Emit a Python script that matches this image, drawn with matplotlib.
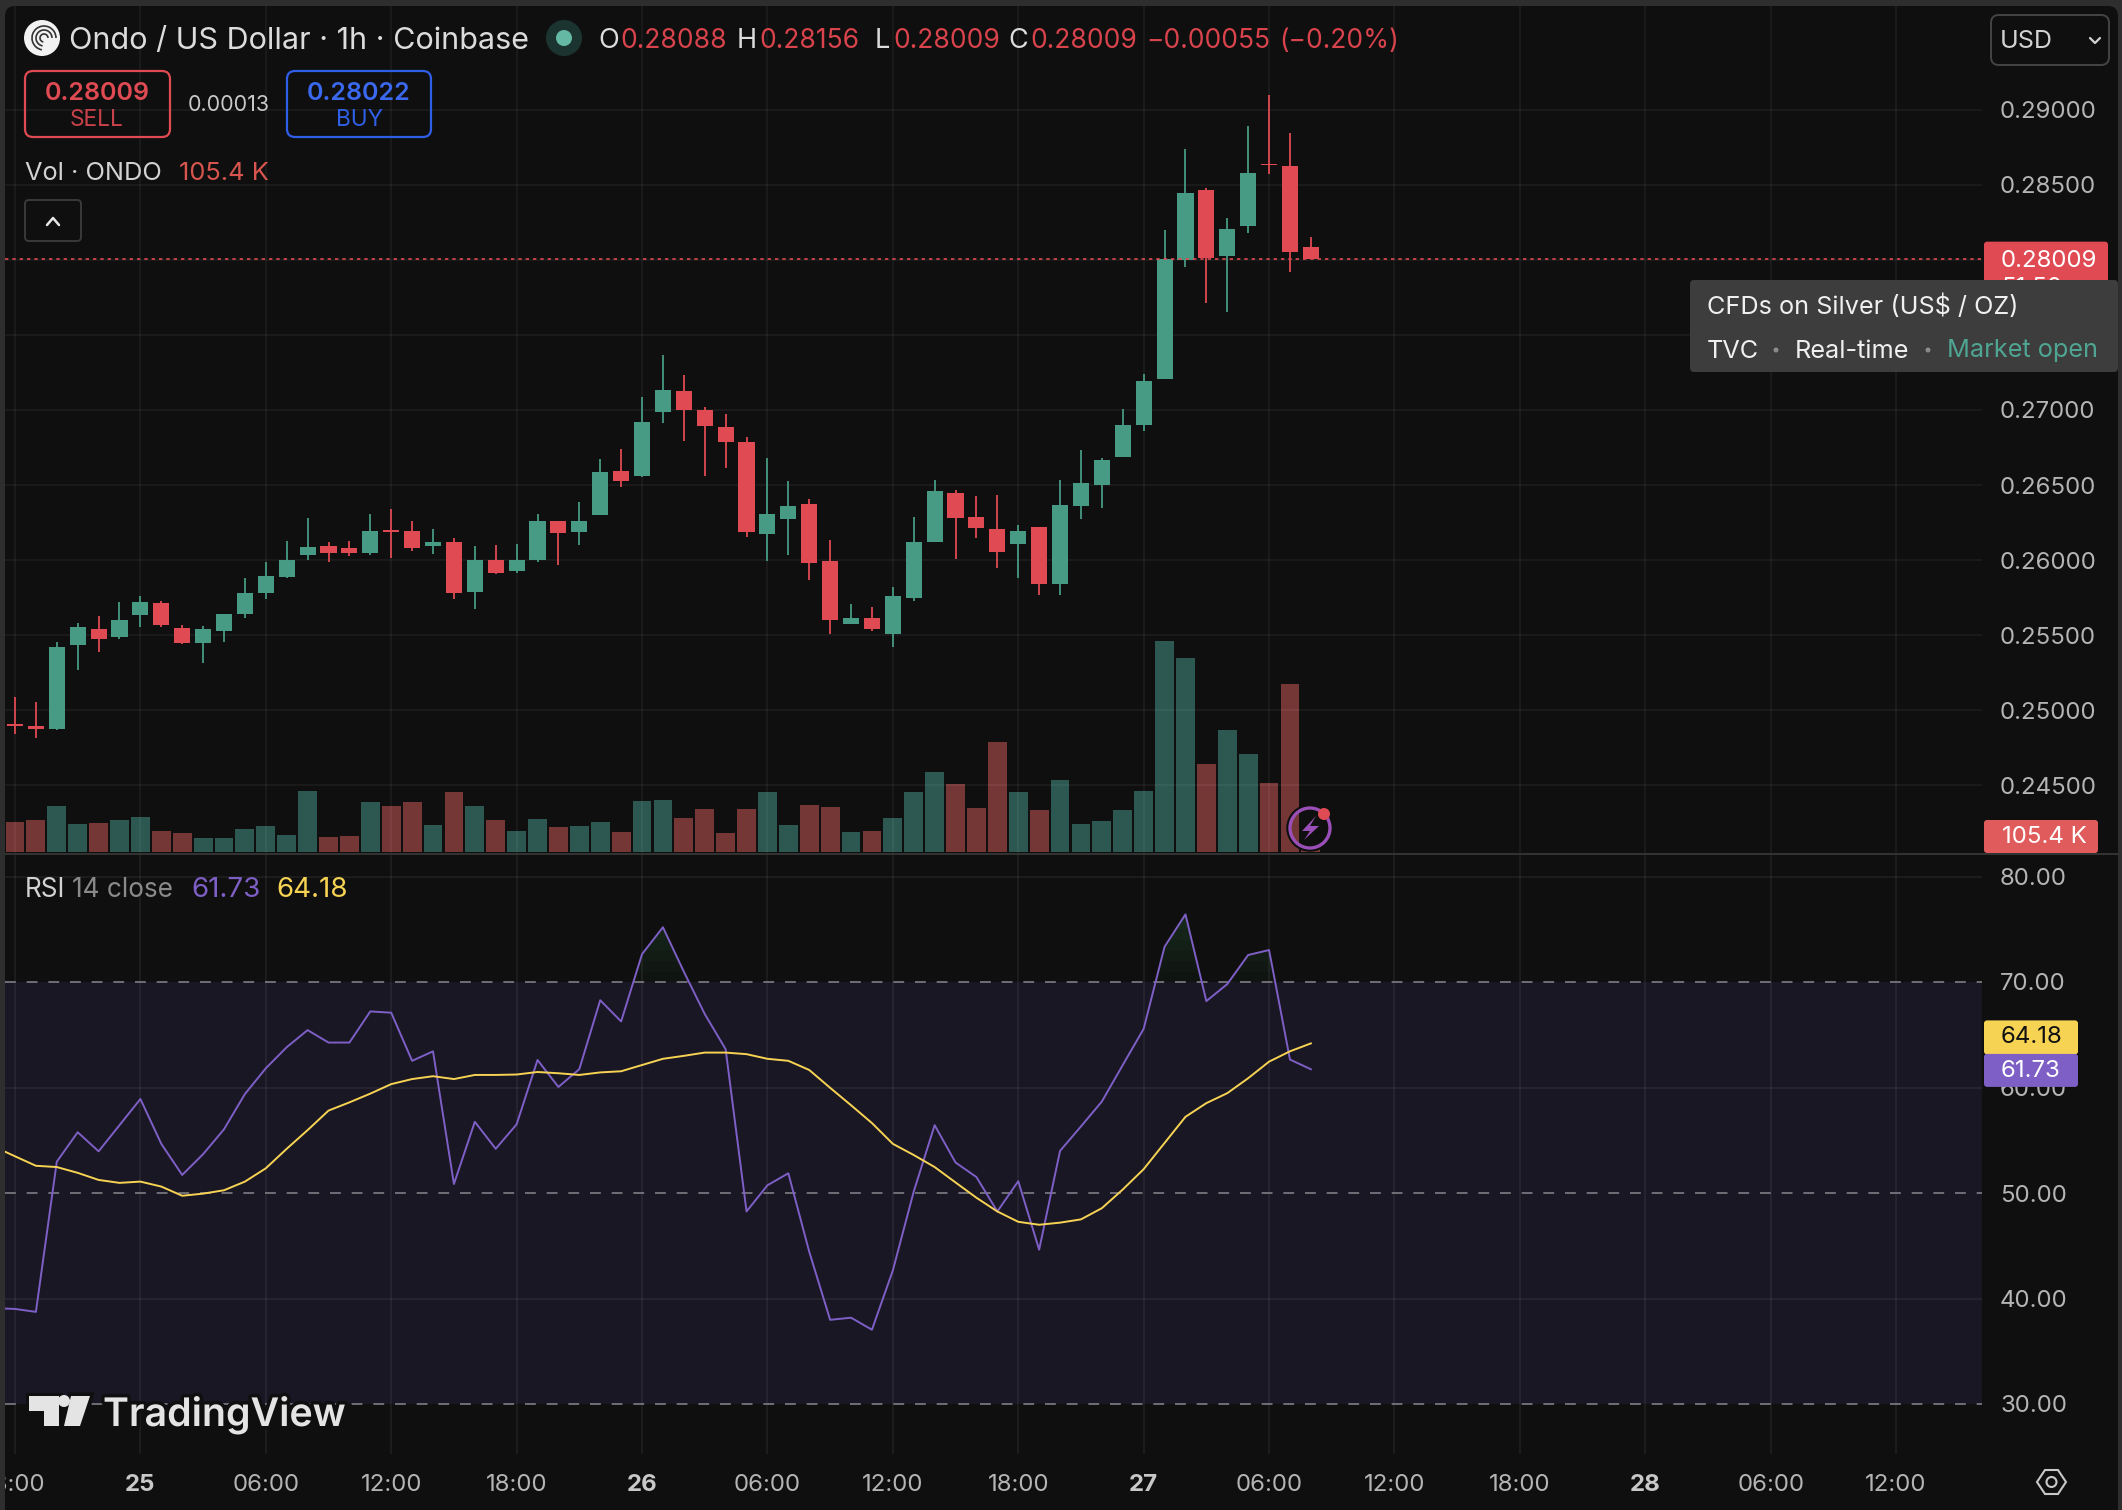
import numpy as np
import matplotlib
matplotlib.use("Agg")
import matplotlib.pyplot as plt
import matplotlib.patheffects as pe
from matplotlib.patches import FancyBboxPatch, Circle, Polygon, Arc

plt.rcParams['font.family'] = ['Inter', 'DejaVu Sans']

# hourly candles, hour 0 = 24th 18:00
opens = [.24907, .24893, .24873, .25433, .2554, .25487, .25633, .25713, .25547, .25447,
         .25527, .2564, .2578, .25887, .26033, .26093, .2608, .26047, .262, .26193,
         .26093, .2612, .25787, .26, .25927, .26, .2626, .26187, .263, .26593,
         .2656, .26987, .27127, .27, .26887, .26787, .26173, .26273, .26373, .25993,
         .25573, .25613, .25507, .25747, .2612, .26447, .26287, .26207, .26107, .2622,
         .2584, .2636, .265, .26687, .269, .27207, .28, .28467, .28027, .28227,
         .28643, .28627, .28088]
highs = [.25087, .25053, .25453, .2558, .25627, .2572, .2576, .25727, .25567, .2556,
         .2564, .2588, .25987, .26127, .2628, .2612, .26127, .26307, .2634, .2626,
         .26207, .26147, .26093, .261, .26107, .26307, .2626, .26387, .26673, .2674,
         .27087, .27367, .27233, .2702, .26973, .2682, .2668, .26527, .26407, .26133,
         .25707, .25687, .2582, .26287, .26533, .26467, .26427, .26433, .26233, .2622,
         .26533, .26733, .2668, .27007, .2724, .282, .2874, .2848, .2828, .28893,
         .291, .28847, .28156]
lows = [.2484, .24813, .24867, .25267, .25387, .25473, .25553, .25553, .2544, .25313,
        .25453, .25613, .2574, .2588, .26, .25987, .26027, .26033, .26013, .2606,
        .2604, .2574, .25673, .25907, .25913, .25987, .25967, .261, .263, .26487,
        .26553, .26913, .26793, .2656, .26613, .26153, .25993, .26033, .25867, .25507,
        .25573, .25527, .2542, .25727, .2612, .26007, .26147, .25947, .2588, .25767,
        .25767, .26273, .26347, .26687, .2686, .27207, .27953, .27713, .27653, .2818,
        .28573, .2792, .28009]
closes = [.24893, .24873, .2542, .25553, .25473, .256, .2572, .25567, .25447, .2554,
          .2564, .2578, .25893, .26, .26087, .26047, .26047, .26193, .26187, .2608,
          .2612, .2578, .26, .25913, .26, .2626, .2618, .2626, .26587, .26527,
          .2692, .27133, .27, .26893, .26787, .26187, .26307, .2636, .2598, .256,
          .25613, .2554, .2576, .2612, .2646, .2628, .26213, .26053, .26193, .2584,
          .26367, .26513, .26667, .269, .27193, .28007, .28447, .28013, .28207, .2858,
          .28633, .28053, .28009]
# volume in thousands
volumes = [1050, 1120, 1610, 980, 1015, 1120, 1225, 735, 665, 490,
           490, 805, 910, 595, 2135, 525, 560, 1750, 1610, 1750,
           945, 2100, 1610, 1120, 735, 1155, 875, 910, 1050, 700,
           1785, 1820, 1190, 1505, 665, 1505, 2100, 945, 1645, 1575,
           700, 735, 1190, 2100, 2800, 2380, 1540, 3850, 2100, 1470,
           2520, 980, 1085, 1470, 2135, 7385, 6790, 3080, 4270, 3430,
           2415, 5880, 105.4]
# RSI and its average start one bar earlier, at hour -1
rsi = [39.09, 39.01, 38.73, 52.97, 55.76, 53.95, 56.43, 58.91, 54.66, 51.71,
       53.68, 56.04, 59.38, 61.82, 63.82, 65.44, 64.26, 64.26, 67.21, 67.09,
       62.53, 63.43, 50.85, 56.75, 54.19, 56.51, 62.61, 60.05, 61.74, 68.27,
       66.26, 72.64, 75.19, 70.98, 66.97, 63.63, 48.25, 50.73, 51.87, 44.43,
       37.98, 38.18, 37.04, 42.66, 50.14, 56.43, 52.89, 51.51, 48.25, 51.12,
       44.63, 53.99, 56.31, 58.67, 62.13, 65.56, 73.34, 76.41, 68.19, 69.8,
       72.56, 73.03, 62.65, 61.73]
rsi_ma = [54.39, 53.48, 52.58, 52.46, 51.91, 51.24, 50.96, 51.08, 50.61, 49.74,
          49.94, 50.26, 51.08, 52.34, 54.19, 55.96, 57.81, 58.59, 59.42, 60.32,
          60.8, 61.07, 60.8, 61.19, 61.19, 61.23, 61.47, 61.35, 61.19, 61.43,
          61.54, 62.13, 62.72, 63.0, 63.31, 63.31, 63.16, 62.72, 62.53, 61.66,
          59.97, 58.32, 56.63, 54.66, 53.6, 52.46, 51.0, 49.55, 48.25, 47.27,
          46.99, 47.19, 47.5, 48.56, 50.33, 52.26, 54.74, 57.22, 58.52, 59.46,
          60.88, 62.45, 63.43, 64.18]
price_ticks = [0.29, 0.285, 0.28, 0.275, 0.27, 0.265, 0.26, 0.255, 0.25, 0.245]
rsi_ticks = [80, 70, 60, 50, 40, 30]
time_hours = [0, 6, 12, 18, 24, 30, 36, 42, 48, 54, 60, 66, 72, 78, 84, 90]
time_labels = ['18:00', '25', '06:00', '12:00', '18:00', '26', '06:00', '12:00',
               '18:00', '27', '06:00', '12:00', '18:00', '28', '06:00', '12:00']
last_price = 0.28009

W, H = 2122, 1510
BG = '#0f0f0f'
GREEN = '#479a83'
RED = '#e04a52'
VOL_GREEN = '#2d5852'
VOL_RED = '#753736'
GRID = '#ffffff'
LABEL = '#b4b4b4'
XLIM = (-0.478, 94.11)


def add_ax(left, top, right, bottom, **kw):
    return fig.add_axes([left / W, 1 - bottom / H, (right - left) / W, (bottom - top) / H], **kw)


def box(ax, x0, y0, x1, y1, r=4, **kw):
    p = FancyBboxPatch((x0 + r, y0 + r), x1 - x0 - 2 * r, y1 - y0 - 2 * r,
                       boxstyle=f'round,pad={r},rounding_size={r}', **kw)
    ax.add_patch(p)


def to_px(ax, v):
    return H - ax.transData.transform((0, v))[1]


def label(x, y, s, size, color, **kw):
    kw.setdefault('va', 'center')
    return ov.text(x, y + 2, s, fontsize=size, color=color, **kw)


fig = plt.figure(figsize=(W / 100, H / 100), dpi=100, facecolor='#2e2e2e')

# rounded dark panel
back = fig.add_axes([0, 0, 1, 1], zorder=0)
back.set_xlim(0, W)
back.set_ylim(H, 0)
back.axis('off')
box(back, 5, 6, 2118, 1540, r=10, fc=BG, ec='none')

# volume underneath
ax_vol = add_ax(5, 6, 1982, 853, zorder=1, facecolor='none')
ax_vol.set_xlim(*XLIM)
ax_vol.set_ylim(-35, 29610)
ax_vol.set_yticks([])
ax_vol.set_xticks([])
for s in ax_vol.spines.values():
    s.set_visible(False)
ax_vol.vlines(time_hours, -35, 29610, color=GRID, alpha=0.06, lw=1.1, zorder=3)

# price pane
ax = add_ax(5, 6, 1982, 853, zorder=2, facecolor='none')
ax.set_xlim(*XLIM)
ax.set_ylim(0.240467, 0.296933)
for s in ax.spines.values():
    s.set_visible(False)
ax.yaxis.tick_right()
ax.set_yticks(price_ticks)
ax.set_yticklabels([f'{p:.5f}' for p in price_ticks], fontsize=17.3, color=LABEL)
ax.tick_params(axis='y', length=0, pad=13)
ax.set_xticks([])
ax.hlines(price_ticks, *XLIM, color=GRID, alpha=0.06, lw=1.1, zorder=0)

hours = np.arange(len(closes))
o = np.array(opens)
c = np.array(closes)
up = c >= o
colors = [GREEN if u else RED for u in up]
vol_colors = [VOL_GREEN if u else VOL_RED for u in up]
ax_vol.bar(hours, volumes, width=0.9, color=vol_colors, lw=0, zorder=2)
ax.vlines(hours, lows, highs, color=colors, lw=1.3, zorder=3)
ax.bar(hours, np.abs(c - o), bottom=np.minimum(o, c), width=0.77, color=colors, lw=0, zorder=4)
ax.axhline(last_price, color=RED, lw=1.2, linestyle=(0, (2, 2.4)), zorder=5)

# RSI pane
ax_rsi = add_ax(5, 855, 1982, 1454, zorder=2, facecolor='none')
ax_rsi.set_xlim(*XLIM)
ax_rsi.set_ylim(70 - (1454 - 982) / 10.55, 70 + (982 - 855) / 10.55)
for s in ax_rsi.spines.values():
    s.set_visible(False)
ax_rsi.yaxis.tick_right()
ax_rsi.set_yticks(rsi_ticks)
ax_rsi.set_yticklabels([f'{t:.2f}' for t in rsi_ticks], fontsize=17.3, color=LABEL)
ax_rsi.tick_params(axis='y', length=0, pad=13)
ax_rsi.set_xticks([])
ax_rsi.axhspan(30, 70, color='#191724', lw=0, zorder=0)
ax_rsi.hlines([80, 60, 40], *XLIM, color=GRID, alpha=0.07, lw=1.1, zorder=1)
ax_rsi.vlines(time_hours, ax_rsi.get_ylim()[0], ax_rsi.get_ylim()[1], color=GRID, alpha=0.07, lw=1.1, zorder=1)
ax_rsi.hlines([30, 50, 70], *XLIM, color='#7e7e86', lw=1.2, linestyles=[(0, (6.5, 6.5))], zorder=2)
rsi_x = np.arange(-1, len(closes))
rsi_arr = np.array(rsi)
# faded green under the overbought peaks
for lev in range(70, 77):
    ax_rsi.fill_between(rsi_x, lev, rsi_arr, where=rsi_arr > lev, interpolate=True,
                        color='#3fa060', alpha=0.035, lw=0, zorder=1)
ax_rsi.plot(rsi_x, rsi, color='#7e5fc6', lw=1.4, zorder=3)
ax_rsi.plot(rsi_x, rsi_ma, color='#f7d354', lw=1.4, zorder=4)

# time axis
ax_t = add_ax(5, 1454, 1982, 1510, zorder=2, facecolor='none')
ax_t.set_xlim(*XLIM)
ax_t.set_ylim(56, 0)
ax_t.axis('off')
for h, lab in zip(time_hours, time_labels):
    bold = ':' not in lab
    ax_t.text(h, 31, lab, ha='center', va='center', fontsize=17.3, clip_on=True,
              color='#c8c8c8' if bold else LABEL, fontweight='bold' if bold else 'normal')

# everything that sits on top of the chart, in pixels
ov = fig.add_axes([0, 0, 1, 1], zorder=5, facecolor='none')
ov.set_xlim(0, W)
ov.set_ylim(H, 0)
ov.axis('off')
ov.plot([5, 2118], [853.5, 853.5], color='#333333', lw=1.4)

# header
ov.add_patch(Circle((42, 38), 18, fc='#f2f2f2', ec='none'))
for rr in (12, 8, 4):
    ov.add_patch(Arc((44, 38), rr * 2, rr * 2, theta1=100, theta2=360, ec='#333333', lw=1.2))
label(69, 39, 'Ondo / US Dollar · 1h · Coinbase', 22, '#dcdcdc')
ov.add_patch(Circle((564, 38), 18, fc='#1b3430', ec='none'))
ov.add_patch(Circle((564, 38), 8, fc='#65b8a4', ec='none'))
for x, s in [(598, 'O'), (737, 'H'), (875, 'L'), (1008, 'C')]:
    label(x, 39, s, 19.5, '#dcdcdc')
for x, s in [(620, '0.28088'), (759, '0.28156'), (893, '0.28009'), (1030, '0.28009'),
             (1146, '−0.00055'), (1279, '(−0.20%)')]:
    label(x, 39, s, 19, '#d8434c')

# sell / buy
box(ov, 25, 71, 170, 137, r=8, fc='none', ec=RED, lw=1.6)
label(97, 91, '0.28009', 18, RED, ha='center', fontweight='semibold')
label(97, 118, 'SELL', 16.3, '#c9414a', ha='center')
label(229, 103, '0.00013', 15.5, '#c8c8c8', ha='center')
box(ov, 287, 71, 431, 137, r=8, fc='none', ec='#2f5fe6', lw=1.6)
label(359, 91, '0.28022', 18, '#3a68ee', ha='center', fontweight='semibold')
label(359, 118, 'BUY', 16.3, '#2f5fe6', ha='center')

label(25, 172, 'Vol · ONDO', 18.3, '#d2d2d2')
label(179, 172, '105.4 K', 18.3, '#d8554f')
box(ov, 25, 200, 81, 241, r=4, fc=BG, ec='#3a3a3a', lw=1.4)
ov.plot([47, 53, 59], [225, 218, 225], color='#e6e6e6', lw=1.8, solid_capstyle='round')

# currency select
box(ov, 1991, 15, 2109, 65, r=8, fc=BG, ec='#444444', lw=1.4)
label(2000, 39, 'USD', 18, '#d2d2d2')
ov.plot([2090, 2095, 2100], [38, 43, 38], color='#d2d2d2', lw=1.6, solid_capstyle='round')

# last price tag with the clipped countdown below it, then the tooltip on top
y = to_px(ax, last_price)
box(ov, 1984, y - 17, 2108, 300, r=3, fc=RED, ec='none')
label(2001, y, f'{last_price:.5f}', 17.3, 'white')
label(2001, 286, '51:50', 17.3, 'white')
box(ov, 1690, 280, 2118, 372, r=4, fc='#3d3d3d', ec='none', zorder=6)
label(1707, 305, 'CFDs on Silver (US$ / OZ)', 18.2, '#f0f0f0', zorder=7)
label(1707, 349, 'TVC', 18.2, '#f0f0f0', zorder=7)
ov.add_patch(Circle((1776, 350), 2.5, fc='#8a8a8a', ec='none', zorder=7))
label(1795, 349, 'Real-time', 18.2, '#f0f0f0', zorder=7)
ov.add_patch(Circle((1928, 350), 2.5, fc='#8a8a8a', ec='none', zorder=7))
label(1947, 349, 'Market open', 18.2, '#4fa592', zorder=7)

# volume tag
box(ov, 1984, 820, 2098, 853, r=3, fc='#e05c5c', ec='none')
label(2002, 835, '105.4 K', 17.3, 'white')

# RSI section
label(25, 888, 'RSI', 18.8, '#d2d2d2')
label(72, 888, '14 close', 18.8, '#8a8a8a')
label(191, 888, f'{rsi[-1]:.2f}', 20, '#7e5fc6')
label(276, 888, f'{rsi_ma[-1]:.2f}', 20, '#f7d354')
# tags are pushed apart so they do not overlap
y_ma = to_px(ax_rsi, rsi_ma[-1]) - 6
y_rsi = y_ma + 33.5
box(ov, 1984, y_ma - 17, 2078, y_ma + 17, r=3, fc='#f7d354', ec='none')
label(2001, y_ma - 2, f'{rsi_ma[-1]:.2f}', 17.3, '#111111')
box(ov, 1984, y_rsi - 17, 2078, y_rsi + 16, r=3, fc='#7e5fc6', ec='none')
label(2001, y_rsi - 2, f'{rsi[-1]:.2f}', 17.3, 'white')

# lightning badge on the last volume bar
ov.add_patch(Circle((1310, 828), 22, fc='none', ec=BG, lw=2.5))
ov.add_patch(Circle((1310, 828), 20, fc='none', ec='#9a4fb8', lw=2.4))
ov.add_patch(Polygon([(1316, 816), (1302, 831), (1310, 831), (1304, 840), (1319, 826), (1310, 826)],
                     fc='#9a4fb8', ec='none'))
ov.add_patch(Circle((1324, 814), 6, fc=RED, ec='none'))

# TradingView mark
halo = [pe.withStroke(linewidth=5, foreground=BG)]
LOGO = '#e4e4e4'
for pts in ([(29, 1396), (59, 1396), (59, 1426), (44, 1426), (44, 1411), (29, 1411)],
            [(71, 1396), (90, 1396), (80, 1426), (64, 1426)]):
    ov.add_patch(Polygon(pts, fc=LOGO, ec='none', path_effects=halo))
ov.add_patch(Circle((64, 1401), 6, fc=LOGO, ec='none'))
ov.text(103, 1426, 'TradingView', fontsize=28.3, color=LOGO, va='baseline', fontweight='semibold',
        path_effects=halo)

# settings hexagon
ov.add_patch(Polygon([(2037, 1482), (2045, 1470), (2058, 1470), (2066, 1482), (2058, 1494), (2045, 1494)],
                     fc='none', ec='#c8c8c8', lw=1.5))
ov.add_patch(Circle((2051.5, 1482), 5, fc='none', ec='#c8c8c8', lw=1.5))

fig.savefig('out.png', dpi=100, facecolor=fig.get_facecolor())
